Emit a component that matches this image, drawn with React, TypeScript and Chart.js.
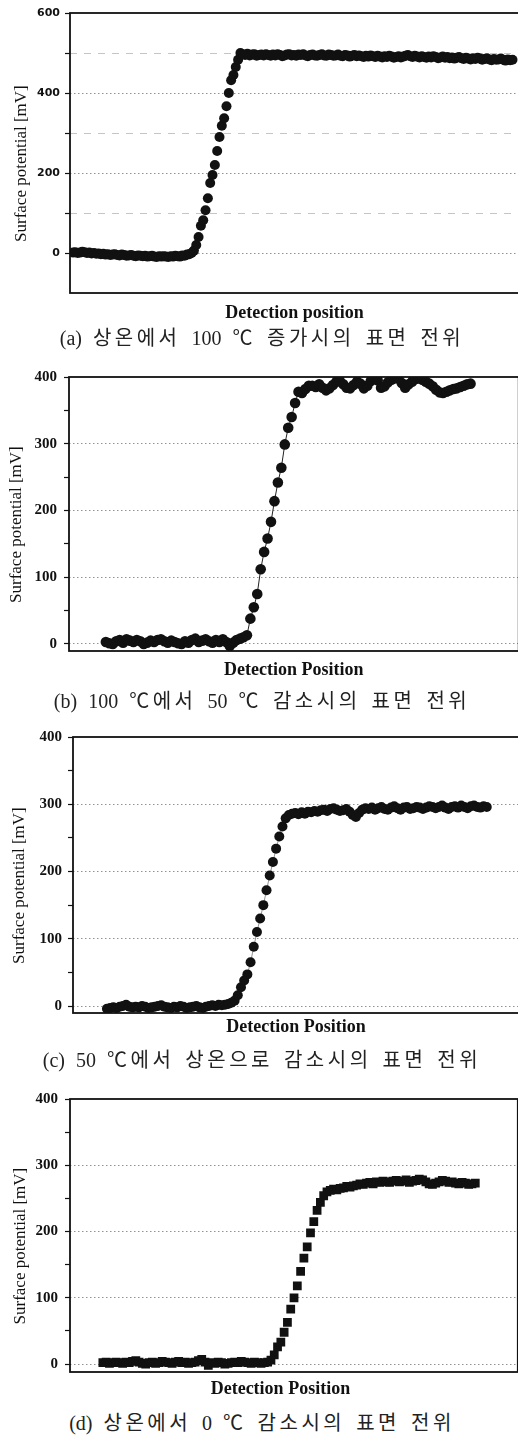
import React, { useEffect, useRef } from "react";
import { Chart, registerables } from "chart.js";

Chart.register(...registerables);

// ---------------- DATA ----------------
// (a) 상온 -> 100 ℃ : surface potential [mV] per detection step
const A_VALUES: number[] = [
  1, 2, 0, 1, 3, 2, 0, 1, -1, 0,
  -2, -1, -3, -2, -4, -3, -5, -4, -3, -5,
  -6, -4, -5, -7, -6, -5, -7, -8, -6, -7,
  -8, -7, -9, -8, -7, -9, -10, -8, -9, -8,
  -9, -10, -8, -9, -7, -8, -9, -6, -7, -4,
  -3, 0, 6, 20, 40, 68, 82, 107, 137, 175,
  195, 220, 255, 290, 318, 337, 367, 400, 432, 445,
  465, 483, 500,
  497, 495, 498, 494, 496, 497, 493, 495, 496, 494,
  497, 495, 493, 496, 494, 497, 495, 492, 494, 496,
  497, 494, 495, 493, 496, 495, 497, 494, 492, 495,
  496, 494, 493, 495, 497, 494, 493, 496, 495, 493,
  494, 496, 493, 492, 495, 494, 491, 493, 495, 492,
  494, 492, 490, 493, 491, 494, 492, 490, 493, 491,
  489, 492, 490, 493, 491, 488, 490, 492, 489, 491,
  493, 495, 492, 490, 493, 491, 489, 492, 490, 488,
  491, 489, 492, 490, 487, 489, 491, 488, 490, 487,
  489, 486, 488, 490, 487, 485, 488, 486, 484, 487,
  485, 488, 486, 483, 485, 487, 484, 482, 485, 483,
  484, 486, 483, 481, 484, 482, 483,
];

// (b) 100 ℃ -> 50 ℃
const B_VALUES: number[] = [
  3, 1, 0, 4, 6, 2, 7, 5, 3, 6,
  4, 0, 2, 5, 3, 6, 7, 4, 2, 5,
  3, 1, 0, 4, 2, 6, 8, 3, 5, 7,
  4, 2, 6, 3, 7, 3, -3, 2, 6, 8,
  10,
  13, 38, 55, 75, 112, 138, 158, 183, 214, 242, 264, 299, 324, 340, 361, 378,
  376, 382, 387, 387, 385, 389, 384, 380, 383, 388,
  393, 394, 389, 384, 383, 388, 393, 390, 383, 387,
  394, 398, 395, 384, 386, 392, 396, 398, 398, 391,
  384, 389, 393, 397, 398, 396, 393, 390, 386, 381,
  377, 376, 378, 380, 382, 383, 385, 387, 389, 390,
];

// (c) 50 ℃ -> 상온
const C_VALUES: number[] = [
  -4, -3, -2, -3, -1, 0, 2, -1, -2, -1,
  -2, 0, -1, -3, -2, -1, 0, 1, -1, -2,
  -3, -1, -2, 0, -1, -3, -2, -1, 0, -2,
  -3, -1, 0, 1, 0, 2, 1, 2, 3, 5,
  8, 16, 28, 38, 47, 65, 88, 110, 130, 150,
  172, 194, 214, 234, 252, 267, 279, 284, 286,
  287, 285, 288, 286, 289, 288, 290, 289, 291, 292,
  290, 293, 294, 292, 290, 291, 293, 289, 284, 281,
  287, 292, 294, 293, 295, 292, 294, 296, 293, 292,
  295, 297, 294, 292, 295, 296, 293, 294, 296, 295,
  293, 295, 297, 296, 294, 296, 298, 295, 293, 296,
  297, 295, 298, 296, 294, 297, 298, 296, 295, 297, 296,
];

// (d) 상온 -> 0 ℃
const D_VALUES: number[] = [
  2, 3, 1, 2, 3, 2, 1, 3, 2, 4,
  5, 3, 1, 0, 2, 3, 1, 2, 4, 3,
  2, 1, 3, 4, 2, 3, 1, 2, 3, 5,
  7, 3, -2, 2, 1, 3, 2, 0, 1, 2,
  3, 2, 4, 3, 2, 1, 3, 2, 1, 2,
  3, 6, 14, 26, 33, 48, 63, 83, 100, 118,
  140, 160, 177, 198, 215, 232, 244, 254, 260,
  262, 264, 263, 265, 266, 268, 267, 269, 270, 272,
  271, 273, 274, 272, 275, 274, 276, 275, 274, 276,
  277, 275, 276, 278, 274, 276, 277, 279, 278, 275,
  272, 271, 273, 275, 277, 276, 274, 275, 273, 272,
  274, 273, 271, 272, 273,
];

// axis ticks
const A_TICKS = [0, 100, 200, 300, 400, 500, 600];
const A_LABELED = [0, 200, 400, 600];
const A_DASHED = [100, 300, 500];
const BCD_TICKS = [0, 50, 100, 150, 200, 250, 300, 350, 400];
const BCD_LABELED = [0, 100, 200, 300, 400];
const NO_DASHED: number[] = [];

const X_TITLES = [
  "Detection position",
  "Detection Position",
  "Detection Position",
  "Detection Position",
];
const Y_TITLE = "Surface potential [mV]";
const CAPTIONS = [
  "(a) 상온에서 100 ℃ 증가시의 표면 전위",
  "(b) 100 ℃에서 50 ℃ 감소시의 표면 전위",
  "(c) 50 ℃에서 상온으로 감소시의 표면 전위",
  "(d) 상온에서 0 ℃ 감소시의 표면 전위",
];

// ---------------- LAYOUT ----------------
const FIG_W = 518;
const FIG_H = 1438;
const CANVAS_W = 524;
const CANVAS_H = 330;
const NBSP = "\u00a0";

type Panel = {
  values: number[];
  top: number;
  plotLeft: number;
  padTop: number;
  xAxisH: number;
  xMin: number;
  xMax: number;
  yMin: number;
  yMax: number;
  ticks: number[];
  labeled: number[];
  dashed: number[];
  xTitle: string;
  xTitleShift: number;
  xTitlePad: number;
  yTitlePad: number;
  tickFont: any;
  tickPad: number;
  pointStyle: string;
  radius: number;
  showLine: boolean;
  lineColor: string;
  lineWidth: number;
  captionY: number;
  caption: string;
};

const SERIF_TICK = { family: "'Liberation Serif', 'Times New Roman', serif", size: 15, weight: "bold" };

const PANELS: Panel[] = [
  {
    values: A_VALUES, top: 0, plotLeft: 70, padTop: 13, xAxisH: 37,
    xMin: -1.29, xMax: 191.8, yMin: -100, yMax: 600,
    ticks: A_TICKS, labeled: A_LABELED, dashed: A_DASHED,
    xTitle: X_TITLES[0], xTitleShift: 0, xTitlePad: 6, yTitlePad: 11,
    tickFont: { family: "'DejaVu Sans', sans-serif", size: 11, weight: "bold" }, tickPad: 5,
    pointStyle: "circle", radius: 5, showLine: false, lineColor: "#111", lineWidth: 0,
    captionY: 338, caption: CAPTIONS[0],
  },
  {
    values: B_VALUES, top: 360, plotLeft: 69, padTop: 17, xAxisH: 39,
    xMin: -10.72, xMax: 120.0, yMin: -10.5, yMax: 400,
    ticks: BCD_TICKS, labeled: BCD_LABELED, dashed: NO_DASHED,
    xTitle: X_TITLES[1], xTitleShift: 0, xTitlePad: 9, yTitlePad: 6,
    tickFont: SERIF_TICK, tickPad: 7,
    pointStyle: "circle", radius: 5.3, showLine: true, lineColor: "#222", lineWidth: 1,
    captionY: 701, caption: CAPTIONS[1],
  },
  {
    values: C_VALUES, top: 720, plotLeft: 73, padTop: 17, xAxisH: 37,
    xMin: -10.63, xMax: 129.1, yMin: -10.4, yMax: 400,
    ticks: BCD_TICKS, labeled: BCD_LABELED, dashed: NO_DASHED,
    xTitle: X_TITLES[2], xTitleShift: 0, xTitlePad: 12, yTitlePad: 9,
    tickFont: SERIF_TICK, tickPad: 6,
    pointStyle: "circle", radius: 5, showLine: true, lineColor: "#777", lineWidth: 0.8,
    captionY: 1060, caption: CAPTIONS[2],
  },
  {
    values: D_VALUES, top: 1080, plotLeft: 70, padTop: 19, xAxisH: 38,
    xMin: -9.97, xMax: 125.9, yMin: -12, yMax: 400,
    ticks: BCD_TICKS, labeled: BCD_LABELED, dashed: NO_DASHED,
    xTitle: X_TITLES[3], xTitleShift: 6, xTitlePad: 10, yTitlePad: 10,
    tickFont: SERIF_TICK, tickPad: 7,
    pointStyle: "rect", radius: 6.2, showLine: false, lineColor: "#111", lineWidth: 0,
    captionY: 1423, caption: CAPTIONS[3],
  },
];

const boxPlugin = {
  id: "plotBox",
  beforeDatasetsDraw(chart: any) {
    const { ctx, chartArea } = chart;
    ctx.save();
    ctx.strokeStyle = "#111";
    ctx.lineWidth = 1.8;
    ctx.strokeRect(
      chartArea.left,
      chartArea.top,
      chartArea.right - chartArea.left,
      chartArea.bottom - chartArea.top
    );
    ctx.restore();
  },
};

function makeConfig(p: Panel): any {
  const points = p.values.map((v, i) => ({ x: i, y: v }));
  return {
    type: "scatter",
    data: {
      datasets: [
        {
          data: points,
          pointStyle: p.pointStyle,
          pointRadius: p.radius,
          pointHoverRadius: p.radius,
          pointBackgroundColor: "#111",
          pointBorderColor: "#111",
          pointBorderWidth: 0,
          showLine: p.showLine,
          borderColor: p.lineColor,
          borderWidth: p.lineWidth,
        },
      ],
    },
    options: {
      animation: false,
      responsive: false,
      maintainAspectRatio: false,
      events: [],
      layout: { padding: { top: p.padTop, left: 0, right: 4, bottom: 0 } },
      plugins: {
        legend: { display: false },
        tooltip: { enabled: false },
        title: { display: false },
      },
      scales: {
        x: {
          type: "linear",
          min: p.xMin,
          max: p.xMax,
          ticks: { display: false },
          grid: { display: false, drawTicks: false },
          border: { display: false },
          title: {
            display: true,
            text: p.xTitle + NBSP.repeat(p.xTitleShift),
            color: "#111",
            font: { family: "'Liberation Serif', 'Times New Roman', serif", size: 18, weight: "bold" },
            padding: { top: 0, bottom: p.xTitlePad },
          },
          afterFit: (s: any) => {
            s.height = p.xAxisH;
          },
        },
        y: {
          type: "linear",
          min: p.yMin,
          max: p.yMax,
          afterBuildTicks: (s: any) => {
            s.ticks = p.ticks.map((v) => ({ value: v }));
          },
          ticks: {
            callback: (v: any) => (p.labeled.includes(v) ? String(v) : ""),
            color: "#111",
            font: p.tickFont,
            padding: p.tickPad,
          },
          grid: {
            drawOnChartArea: true,
            drawTicks: true,
            tickLength: 5,
            tickColor: "#111",
            tickWidth: 1.2,
            lineWidth: 1,
            color: (ctx: any) => {
              const v = ctx.tick ? ctx.tick.value : null;
              if (v === null || v === undefined || v === p.yMax) return "rgba(0,0,0,0)";
              if (p.dashed.includes(v)) return "rgba(150,150,150,0.55)";
              if (p.labeled.includes(v)) return "rgba(110,110,110,0.75)";
              return "rgba(0,0,0,0)";
            },
          },
          border: {
            display: false,
            dash: (ctx: any) => {
              const v = ctx.tick ? ctx.tick.value : null;
              if (v !== null && p.dashed.includes(v)) return [7, 7];
              return [1.5, 2.5];
            },
          },
          title: {
            display: true,
            text: Y_TITLE + NBSP.repeat(5),
            color: "#111",
            font: { family: "'Liberation Serif', 'Times New Roman', serif", size: 17, weight: "normal" },
            padding: { top: p.yTitlePad, bottom: 0 },
          },
          afterFit: (s: any) => {
            s.width = p.plotLeft;
          },
        },
      },
    },
    plugins: [boxPlugin],
  };
}

function PanelChart({ panel }: { panel: Panel }) {
  const ref = useRef<HTMLCanvasElement | null>(null);
  useEffect(() => {
    if (!ref.current) return;
    const chart = new Chart(ref.current, makeConfig(panel));
    return () => chart.destroy();
  }, [panel]);
  return (
    <canvas
      ref={ref}
      width={CANVAS_W}
      height={CANVAS_H}
      style={{
        position: "absolute",
        left: 0,
        top: panel.top,
        width: CANVAS_W,
        height: CANVAS_H,
      }}
    />
  );
}

function Caption({ text }: { text: string }) {
  const parts = text.split(/([\uAC00-\uD7A3\u2103]+)/);
  return (
    <>
      {parts.map((s, i) =>
        /[\uAC00-\uD7A3\u2103]/.test(s) ? (
          <span key={i} style={{ letterSpacing: "3.5px" }}>
            {s}
          </span>
        ) : (
          <span key={i}>{s}</span>
        )
      )}
    </>
  );
}

export default function App() {
  return (
    <div
      style={{
        position: "absolute",
        left: 0,
        top: 0,
        width: FIG_W,
        height: FIG_H,
        overflow: "hidden",
        background: "#fff",
      }}
    >
      {PANELS.map((p, i) => (
        <PanelChart key={i} panel={p} />
      ))}
      {PANELS.map((p, i) => (
        <div
          key={"c" + i}
          style={{
            position: "absolute",
            left: 0,
            width: CANVAS_W,
            top: p.captionY - 12,
            height: 24,
            lineHeight: "24px",
            textAlign: "center",
            fontFamily: "'Liberation Serif', 'Noto Sans CJK KR', serif",
            fontSize: 20,
            wordSpacing: "6px",
            color: "#222",
            whiteSpace: "nowrap",
          }}
        >
          <Caption text={p.caption} />
        </div>
      ))}
    </div>
  );
}
